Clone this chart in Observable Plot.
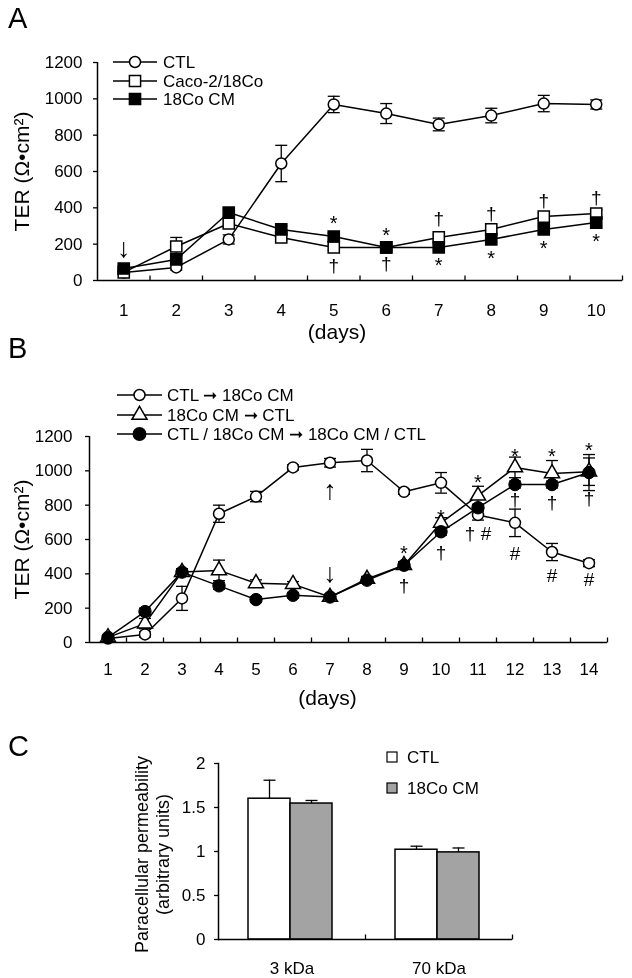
<!DOCTYPE html>
<html><head><meta charset="utf-8">
<script src="https://cdn.jsdelivr.net/npm/d3@7"></script>
<script src="https://cdn.jsdelivr.net/npm/@observablehq/plot@0.6"></script>
<style>
body{margin:0;background:#fff;}
#root{position:relative;width:632px;height:978px;font-family:"Liberation Sans",Arial,sans-serif;background:#fff;overflow:hidden;}
.panel{position:absolute;left:0;will-change:transform;}
.letter{position:absolute;left:8px;font-size:29px;line-height:1;color:#000;}
</style></head><body><div id="root"></div>
<script>
const FONT = '"Liberation Sans", Arial, sans-serif';

// ---------- Panel A data ----------
const daysA = [1, 2, 3, 4, 5, 6, 7, 8, 9, 10];
const ticksA = [0, 200, 400, 600, 800, 1000, 1200];
const ctlA = [44, 72, 226, 644, 969, 919, 859, 908, 974, 969];
const ctlAErr = [10, 15, 25, 100, 45, 55, 35, 40, 45, 25];
const cacoA = [45, 187, 314, 237, 182, 182, 237, 281, 352, 369];
const cacoAErr = [10, 50, 20, 15, 15, 10, 15, 15, 20, 20];
const cmA = [66, 116, 374, 281, 242, 182, 182, 226, 281, 319];
const cmAErr = [15, 20, 20, 20, 20, 15, 15, 15, 20, 20];
const legendA = ["CTL", "Caco-2/18Co", "18Co CM"];
const annDaysA = [5, 5, 6, 6, 7, 7, 8, 8, 9, 9, 10, 10];
const annValsA = [341, 83, 275, 94, 341, 110, 369, 149, 440, 204, 457, 242];
const annSymA = ["*", "†", "*", "†", "†", "*", "†", "*", "†", "*", "†", "*"];
const arrowA = [{day: 1, v: 176, s: "↓"}];

// ---------- Panel B data ----------
const daysB = [1, 2, 3, 4, 5, 6, 7, 8, 9, 10, 11, 12, 13, 14];
const ticksB = [0, 200, 400, 600, 800, 1000, 1200];
const ctlToCm = [23, 47, 257, 750, 850, 1020, 1047, 1060, 878, 930, 743, 697, 527, 462];
const ctlToCmErr = [10, 15, 70, 50, 30, 15, 25, 65, 15, 60, 30, 80, 50, 20];
const cmToCtl = [30, 110, 410, 420, 345, 340, 265, 370, 450, 697, 855, 1020, 985, 995];
const cmToCtlErr = [10, 30, 20, 60, 20, 15, 15, 15, 20, 30, 55, 60, 75, 80];
const swapB = [30, 180, 410, 330, 250, 275, 265, 363, 450, 645, 785, 920, 920, 990];
const swapBErr = [10, 20, 20, 20, 15, 15, 15, 15, 20, 20, 20, 20, 20, 105];
const legendB = ["CTL ➞ 18Co CM", "18Co CM ➞ CTL", "CTL / 18Co CM ➞ 18Co CM / CTL"];
const annDaysB = [9, 9, 10, 10, 11, 11, 12, 12, 12, 13, 13, 13, 14, 14, 14];
const annValsB = [547, 332, 757, 524, 961, 635, 1112, 833, 518, 1112, 815, 390, 1147, 839, 367];
const annSymB = ["*", "†", "*", "†", "*", "† #", "*", "†", "#", "*", "†", "#", "*", "†", "#"];
const arrowsB = [{day: 7, v: 885, s: "↑"}, {day: 7, v: 402, s: "↓"}];

// ---------- Panel C data ----------
const groupsC = ["3 kDa", "70 kDa"];
const ctlC = [1.60, 1.02];
const ctlCErr = [0.21, 0.04];
const cmC = [1.545, 0.99];
const cmCErr = [0.035, 0.05];
const ticksC = [0, 0.5, 1, 1.5, 2];
const legendC = ["CTL", "18Co CM"];
const ylabC = ["Paracellular permeability", "(arbitrary units)"];

// ---------- helpers ----------
const rows = (days, vals, errs) => days.map((d, i) => ({day: d, v: vals[i], e: errs[i]}));
const ann = (days, vals, syms) => days.map((d, i) => ({day: d, v: vals[i], s: syms[i]}));
const cap = w => ({draw(ctx) { ctx.moveTo(-w, 0); ctx.lineTo(w, 0); }});
const upTick = {draw(ctx) { ctx.moveTo(0, 0); ctx.lineTo(0, -5); }};
const halves = n => d3.range(n).map(i => i + 1.5);
const style = {fontFamily: FONT, fontSize: "17px", color: "black", background: "transparent", overflow: "visible"};

function errMarks(data, w) {
  return [
    Plot.ruleX(data, {x: "day", y1: d => d.v - d.e, y2: d => d.v + d.e, stroke: "black", strokeWidth: 1.3}),
    Plot.dot(data, {x: "day", y: d => d.v + d.e, symbol: cap(w), stroke: "black", fill: "none", strokeWidth: 1.3}),
    Plot.dot(data, {x: "day", y: d => d.v - d.e, symbol: cap(w), stroke: "black", fill: "none", strokeWidth: 1.3})
  ];
}
function annMarks(data) {
  return [
    Plot.text(data.filter(d => d.s === "*"), {x: "day", y: "v", text: "s", fontSize: 20, dy: 5, fill: "black", textAnchor: "middle"}),
    Plot.text(data.filter(d => d.s !== "*"), {x: "day", y: "v", text: "s", fontSize: 19, fill: "black", textAnchor: "middle"})
  ];
}
function legendRow(svg, x1, x2, y, tx, sym, r, fill, label, fs) {
  const g = d3.select(svg).append("g");
  g.append("line").attr("x1", x1).attr("x2", x2).attr("y1", y).attr("y2", y)
    .attr("stroke", "black").attr("stroke-width", 1.5);
  g.append("path").attr("d", d3.symbol(sym, Math.PI * r * r)())
    .attr("transform", `translate(${(x1 + x2) / 2},${y})`)
    .attr("fill", fill).attr("stroke", "black").attr("stroke-width", 1.5);
  g.append("text").attr("x", tx).attr("y", y).attr("dy", "0.35em").attr("text-anchor", "start")
    .attr("font-family", FONT).attr("font-size", fs).attr("fill", "black").text(label);
}
function place(el, top) {
  el.classList.add("panel");
  el.style.top = top + "px";
  document.getElementById("root").appendChild(el);
}
function letter(t, top) {
  const d = document.createElement("div");
  d.className = "letter"; d.textContent = t; d.style.top = top + "px";
  document.getElementById("root").appendChild(d);
}
const label = (t, o) => Plot.text([t], {textAnchor: "middle", lineAnchor: "middle", fill: "black", ...o});

// ---------- Panel A ----------
const ctlRowsA = rows(daysA, ctlA, ctlAErr);
const cacoRowsA = rows(daysA, cacoA, cacoAErr);
const cmRowsA = rows(daysA, cmA, cmAErr);
const plotA = Plot.plot({
  width: 632, height: 345,
  marginTop: 62, marginBottom: 65, marginLeft: 97, marginRight: 10,
  x: {domain: [0.5, 10.5]},
  y: {domain: [0, 1200]},
  style,
  marks: [
    Plot.axisY({ticks: ticksA, tickSize: 4, tickPadding: 11, fontSize: 17, strokeWidth: 1.3, tickFormat: d => String(d), label: null}),
    Plot.axisX({ticks: daysA, tickSize: 0, tickPadding: 23, fontSize: 17, tickFormat: d => String(d), label: null}),
    Plot.ruleY([0], {stroke: "black", strokeWidth: 1.5}),
    Plot.ruleX([0.5], {stroke: "black", strokeWidth: 1.5}),
    Plot.dot(halves(10), {x: d => d, y: 0, symbol: upTick, stroke: "black", fill: "none", strokeWidth: 1.3}),
    Plot.line(ctlRowsA, {x: "day", y: "v", stroke: "black", strokeWidth: 1.5}),
    Plot.line(cacoRowsA, {x: "day", y: "v", stroke: "black", strokeWidth: 1.5}),
    Plot.line(cmRowsA, {x: "day", y: "v", stroke: "black", strokeWidth: 1.5}),
    ...errMarks(ctlRowsA, 6),
    ...errMarks(cacoRowsA, 6),
    ...errMarks(cmRowsA, 6),
    Plot.dot(ctlRowsA, {x: "day", y: "v", r: 5.5, fill: "white", stroke: "black", strokeWidth: 1.5}),
    Plot.dot(cacoRowsA, {x: "day", y: "v", symbol: "square", r: 6.3, fill: "white", stroke: "black", strokeWidth: 1.5}),
    Plot.dot(cmRowsA, {x: "day", y: "v", symbol: "square", r: 6.3, fill: "black", stroke: "black", strokeWidth: 1.5}),
    ...annMarks(ann(annDaysA, annValsA, annSymA)),
    Plot.text(arrowA, {x: "day", y: "v", text: "s", fontSize: 27, fill: "black", textAnchor: "middle"}),
    label("TER (Ω•cm²)", {frameAnchor: "left", rotate: -90, dx: -75, fontSize: 21}),
    label("(days)", {frameAnchor: "bottom", dx: -23, dy: 52, fontSize: 21})
  ]
});
legendRow(plotA, 113, 157, 62, 163, d3.symbolCircle, 5.5, "white", legendA[0], 17);
legendRow(plotA, 113, 157, 81, 163, d3.symbolSquare, 6.3, "white", legendA[1], 17);
legendRow(plotA, 113, 157, 99, 163, d3.symbolSquare, 6.3, "black", legendA[2], 17);
place(plotA, 0);
letter("A", 4);

// ---------- Panel B ----------
const r1 = rows(daysB, ctlToCm, ctlToCmErr);
const r2 = rows(daysB, cmToCtl, cmToCtlErr);
const r3 = rows(daysB, swapB, swapBErr);
const plotB = Plot.plot({
  width: 632, height: 370,
  marginTop: 91, marginBottom: 73, marginLeft: 89, marginRight: 25,
  x: {domain: [0.5, 14.5]},
  y: {domain: [0, 1200]},
  style,
  marks: [
    Plot.axisY({ticks: ticksB, tickSize: 4, tickPadding: 13, fontSize: 17, strokeWidth: 1.3, tickFormat: d => String(d), label: null}),
    Plot.axisX({ticks: daysB, tickSize: 0, tickPadding: 20, fontSize: 17, tickFormat: d => String(d), label: null}),
    Plot.ruleY([0], {stroke: "black", strokeWidth: 1.5}),
    Plot.ruleX([0.5], {stroke: "black", strokeWidth: 1.5}),
    Plot.dot(halves(14), {x: d => d, y: 0, symbol: upTick, stroke: "black", fill: "none", strokeWidth: 1.3}),
    Plot.line(r1, {x: "day", y: "v", stroke: "black", strokeWidth: 1.5}),
    Plot.line(r2, {x: "day", y: "v", stroke: "black", strokeWidth: 1.5}),
    Plot.line(r3, {x: "day", y: "v", stroke: "black", strokeWidth: 1.5}),
    ...errMarks(r1, 6),
    ...errMarks(r2, 6),
    ...errMarks(r3, 6),
    Plot.dot(r1, {x: "day", y: "v", r: 5.5, fill: "white", stroke: "black", strokeWidth: 1.5}),
    Plot.dot(r2, {x: "day", y: "v", symbol: "triangle", r: 5.6, fill: "white", stroke: "black", strokeWidth: 1.5}),
    Plot.dot(r3, {x: "day", y: "v", r: 6.2, fill: "black", stroke: "black", strokeWidth: 1}),
    ...annMarks(ann(annDaysB, annValsB, annSymB)),
    Plot.text(arrowsB, {x: "day", y: "v", text: "s", fontSize: 27, fill: "black", textAnchor: "middle"}),
    label("TER (Ω•cm²)", {frameAnchor: "left", rotate: -90, dx: -67, fontSize: 21}),
    label("(days)", {frameAnchor: "bottom", dx: -21, dy: 56, fontSize: 21})
  ]
});
legendRow(plotB, 117, 162, 50, 167, d3.symbolCircle, 5.5, "white", legendB[0], 17);
legendRow(plotB, 117, 162, 70, 167, d3.symbolTriangle, 5.6, "white", legendB[1], 17);
legendRow(plotB, 117, 162, 89, 167, d3.symbolCircle, 6.2, "black", legendB[2], 17);
place(plotB, 345);
letter("B", 334);

// ---------- Panel C ----------
const ctlRowsC = groupsC.map((g, i) => ({g, v: ctlC[i], e: ctlCErr[i]}));
const cmRowsC = groupsC.map((g, i) => ({g, v: cmC[i], e: cmCErr[i]}));
const plotC = Plot.plot({
  width: 632, height: 263,
  marginTop: 48, marginBottom: 39, marginLeft: 218, marginRight: 120,
  x: {domain: groupsC, padding: 0},
  y: {domain: [0, 2]},
  style,
  marks: [
    Plot.axisY({ticks: ticksC, tickSize: 4, tickPadding: 9, fontSize: 17, strokeWidth: 1.3, tickFormat: d => String(d), label: null}),
    Plot.axisX({tickSize: 0, tickPadding: 22, fontSize: 17, label: null}),
    Plot.ruleX(ctlRowsC, {x: "g", y1: "v", y2: d => d.v + d.e, dx: -22.5, stroke: "black", strokeWidth: 1.3}),
    Plot.dot(ctlRowsC, {x: "g", y: d => d.v + d.e, dx: -22.5, symbol: cap(6), stroke: "black", fill: "none", strokeWidth: 1.3}),
    Plot.ruleX(cmRowsC, {x: "g", y1: "v", y2: d => d.v + d.e, dx: 19.5, stroke: "black", strokeWidth: 1.3}),
    Plot.dot(cmRowsC, {x: "g", y: d => d.v + d.e, dx: 19.5, symbol: cap(6), stroke: "black", fill: "none", strokeWidth: 1.3}),
    Plot.barY(ctlRowsC, {x: "g", y: "v", fill: "white", stroke: "black", strokeWidth: 1.5, insetLeft: 30, insetRight: 75}),
    Plot.barY(cmRowsC, {x: "g", y: "v", fill: "#a3a3a3", stroke: "black", strokeWidth: 1.5, insetLeft: 72, insetRight: 33}),
    Plot.ruleY([0], {stroke: "black", strokeWidth: 1.5}),
    Plot.frame({anchor: "left", stroke: "black", strokeWidth: 1.5}),
    Plot.dot([0], {frameAnchor: "bottom", symbol: upTick, stroke: "black", fill: "none", strokeWidth: 1.3}),
    Plot.dot([0], {frameAnchor: "bottom-right", symbol: upTick, stroke: "black", fill: "none", strokeWidth: 1.3}),
    label(ylabC[0], {frameAnchor: "left", rotate: -90, dx: -76, dy: 3, fontSize: 18}),
    label(ylabC[1], {frameAnchor: "left", rotate: -90, dx: -55, dy: 3, fontSize: 18})
  ]
});
{
  const g = d3.select(plotC).append("g");
  [["white", 42], ["#a3a3a3", 73]].forEach(([f, y], i) => {
    g.append("rect").attr("x", 387).attr("y", y - 5).attr("width", 10).attr("height", 10)
      .attr("fill", f).attr("stroke", "black").attr("stroke-width", 1.2);
    g.append("text").attr("x", 407).attr("y", y).attr("dy", "0.35em").attr("text-anchor", "start")
      .attr("font-family", FONT).attr("font-size", 17).attr("fill", "black").text(legendC[i]);
  });
}
place(plotC, 715);
letter("C", 732);
</script></body></html>
